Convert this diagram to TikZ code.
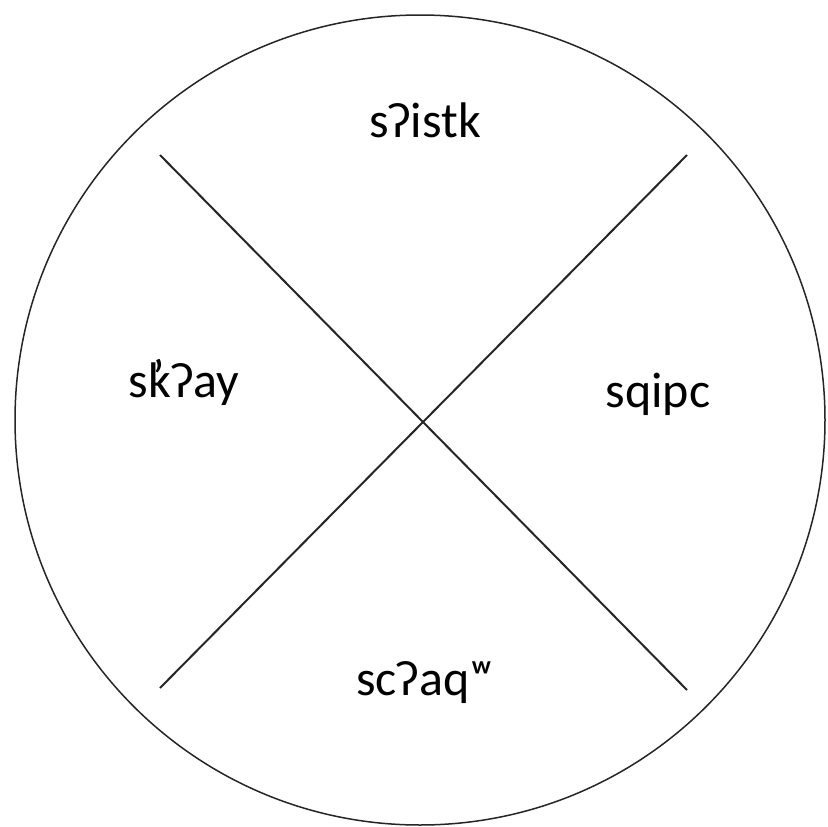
\documentclass[tikz,border=0pt]{standalone}
\usepackage{fontspec}
\setmainfont{Carlito}
\begin{document}
\begin{tikzpicture}[x=1pt,y=-1pt,
  lbl/.style={anchor=base,inner sep=0pt,font=\fontsize{50}{60}\selectfont},
  ring/.style={draw=black!85,line width=1.5pt},
  spoke/.style={draw=black!85,line width=2pt}]
\useasboundingbox (0,0) rectangle (828,827);
\fill[white] (0,0) rectangle (828,827);
\draw[ring] (420,420) circle[radius=405];
\coordinate (tl) at (160,155);
\coordinate (br) at (687,690);
\coordinate (tr) at (687,155);
\coordinate (bl) at (160,688);
\draw[spoke] (tl) -- (br);
\draw[spoke] (tr) -- (bl);
\node[lbl] (n) at (425,137) {sʔistk};
\node[lbl] (w) at (184,397) {sk\llap{\raisebox{0.06em}{’}\kern0.12em}ʔay};
\node[lbl] (e) at (658,407) {sqipc};
\node[lbl] (s) at (425,695) {scʔaqʷ};
\end{tikzpicture}
\end{document}
